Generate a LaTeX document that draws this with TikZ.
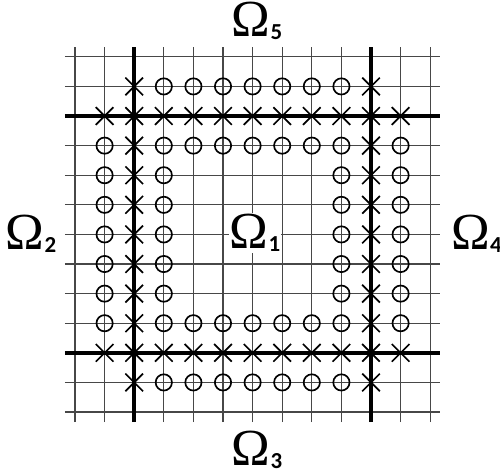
\documentclass[tikz,border=0pt]{standalone}
\usepackage{fontspec}
\setmainfont{Liberation Serif}
\newfontfamily\subfont{Carlito}
\usetikzlibrary{shapes.misc}

% Omega with a bold sans index
\newcommand{\dom}[1]{{\fontsize{50}{50}\selectfont Ω}\kern0.3pt\raisebox{-3.5pt}{\subfont\bfseries\fontsize{22}{22}\selectfont #1}}

\begin{document}
\begin{tikzpicture}[
  x=1cm,y=1cm,
  thin grid/.style={line width=1.1pt,black!72},
  thick grid/.style={line width=3.6pt,black},
  ring/.style={circle,draw=black,line width=1.6pt,minimum size=0.55cm,inner sep=0pt},
  xcross/.style={cross out,draw=black,line width=1.6pt,minimum size=0.54cm,inner sep=0pt},
  dlab/.style={inner sep=1pt}]

  \useasboundingbox (-2.534,-2.06) rectangle (14.358,13.92);

  % ---- grid ----
  \foreach \k in {0,...,12} {
    \draw[thin grid] (\k,-0.34) -- (\k,12.34);
    \draw[thin grid] (-0.34,\k) -- (12.34,\k);
  }
  \foreach \k in {2,10} {
    \draw[thick grid] (\k,-0.34) -- (\k,12.34);
    \draw[thick grid] (-0.34,\k) -- (12.34,\k);
  }

  % ---- crosses on the interfaces ----
  \foreach \j in {2,10}
    \foreach \i in {1,...,11}
      \node[xcross] (x-\i-\j) at (\i,\j) {};
  \foreach \i in {2,10}
    \foreach \j in {1,3,4,5,6,7,8,9,11}
      \node[xcross] (x-\i-\j) at (\i,\j) {};

  % ---- circles ----
  \foreach \j in {1,3,9,11}
    \foreach \i in {3,...,9}
      \node[ring] (o-\i-\j) at (\i,\j) {};
  \foreach \i in {1,11}
    \foreach \j in {3,...,9}
      \node[ring] (o-\i-\j) at (\i,\j) {};
  \foreach \i in {3,9}
    \foreach \j in {4,...,8}
      \node[ring] (o-\i-\j) at (\i,\j) {};

  % ---- subdomain labels ----
  \node[dlab,fill=white] (om1) at (6.08,6.05) {\dom{1}};
  \node[dlab] (om2) at (-1.49,6.02) {\dom{2}};
  \node[dlab] (om3) at (6.15,-1.28) {\dom{3}};
  \node[dlab] (om4) at (13.56,6.02) {\dom{4}};
  \node[dlab] (om5) at (6.15,13.22) {\dom{5}};
\end{tikzpicture}
\end{document}
